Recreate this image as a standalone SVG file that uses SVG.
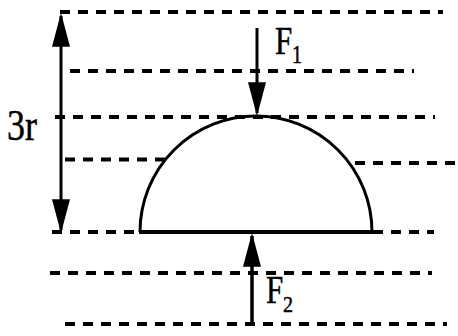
<svg xmlns="http://www.w3.org/2000/svg" width="458" height="336" viewBox="0 0 458 336">
<style>
.dash{stroke:#000;stroke-width:4;stroke-dasharray:10 8;fill:none}
.solid{stroke:#000;fill:none}
.t{font-family:"Liberation Serif","DejaVu Serif",serif;fill:#000;stroke:#000;stroke-width:0.4}
</style>
<defs>
<marker id="ah" markerUnits="userSpaceOnUse" markerWidth="34" markerHeight="18" refX="29" refY="8.5" orient="auto-start-reverse" viewBox="0 0 32 17">
<path d="M0,0 L32,8.5 L0,17 Z" fill="#000"/>
</marker>
</defs>
<rect width="458" height="336" fill="#fff"/>
<g id="levels">
<line class="dash" x1="60" y1="12" x2="443" y2="12"/>
<line class="dash" x1="70" y1="71" x2="414" y2="71"/>
<line class="dash" x1="55" y1="117" x2="435" y2="117"/>
<line class="dash" x1="65" y1="159.5" x2="166" y2="159.5"/>
<line class="dash" x1="355" y1="163" x2="458" y2="163"/>
<line class="dash" x1="52" y1="232" x2="140" y2="232"/>
<line class="dash" x1="373" y1="232" x2="434" y2="232"/>
<line class="dash" x1="50" y1="273" x2="432" y2="273"/>
<line class="dash" x1="65" y1="324" x2="447" y2="324"/>
</g>
<g id="hemisphere">
<path class="solid" stroke-width="3" d="M140,232 A116,116 0 0 1 372,232"/>
<line class="solid" stroke-width="4" x1="139" y1="232" x2="373" y2="232"/>
</g>
<g id="connectors">
<line class="solid" stroke-width="3" x1="61" y1="16" x2="61" y2="230" marker-start="url(#ah)" marker-end="url(#ah)"/>
<line class="solid" stroke-width="3" x1="257" y1="28" x2="257" y2="113" marker-end="url(#ah)"/>
<line class="solid" stroke-width="3.5" x1="252" y1="323" x2="252" y2="236" marker-end="url(#ah)"/>
</g>
<g id="label-3r">
<text class="t" font-size="36" transform="translate(7,140) scale(1,1.23)">3r</text>
</g>
<g id="label-F1">
<text class="t" font-size="31" transform="translate(275,54) scale(1,1.3)">F</text>
<text class="t" font-size="20" transform="translate(292,63) scale(1,1.3)">1</text>
</g>
<g id="label-F2">
<text class="t" font-size="31" transform="translate(266,303) scale(1,1.3)">F</text>
<text class="t" font-size="20" transform="translate(283,312) scale(1,1.15)">2</text>
</g>
</svg>
